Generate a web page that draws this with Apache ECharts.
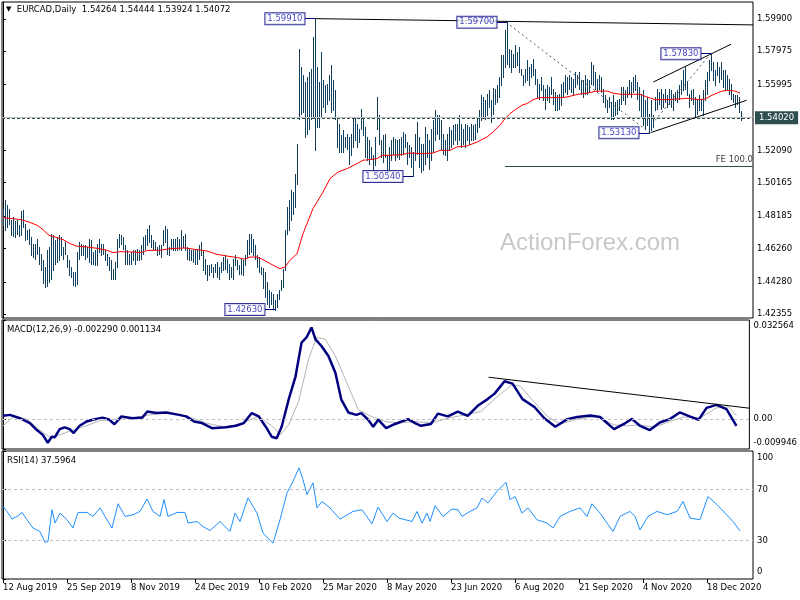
<!DOCTYPE html>
<html><head><meta charset="utf-8">
<script src="https://cdn.jsdelivr.net/npm/echarts@6/dist/echarts.min.js"></script>
<style>html,body{margin:0;padding:0;background:#fff}#c{width:800px;height:600px}</style>
</head><body><div id="c"></div>
<script>
// ---------- DATA ----------
const symbolName = 'EURCAD,Daily';
const lastOHLC = ['1.54264', '1.54444', '1.53924', '1.54072'];
const macdTitle = 'MACD(12,26,9) -0.002290 0.001134';
const rsiTitle = 'RSI(14) 37.5964';
const watermark = 'ActionForex.com';

const barHigh = [
1.4862,1.4912,1.4882,1.4862,1.4793,1.4813,1.4787,1.4793,1.4763,1.4849,
1.4853,1.4773,1.4734,1.4744,1.4694,1.4655,1.4655,1.4684,1.4635,1.4595,
1.4556,1.4516,1.4615,1.4635,1.4710,1.4704,1.4674,1.4694,1.4704,1.4694,
1.4635,1.4665,1.4585,1.4556,1.4516,1.4486,1.4486,1.4605,1.4665,1.4655,
1.4645,1.4645,1.4635,1.4684,1.4674,1.4605,1.4615,1.4655,1.4684,1.4655,
1.4655,1.4615,1.4595,1.4575,1.4556,1.4506,1.4546,1.4684,1.4714,1.4704,
1.4694,1.4645,1.4615,1.4595,1.4605,1.4615,1.4615,1.4625,1.4619,1.4645,
1.4694,1.4704,1.4744,1.4767,1.4704,1.4674,1.4665,1.4635,1.4645,1.4645,
1.4738,1.4758,1.4744,1.4635,1.4684,1.4684,1.4684,1.4694,1.4684,1.4738,
1.4698,1.4714,1.4635,1.4625,1.4615,1.4615,1.4615,1.4625,1.4645,1.4665,
1.4615,1.4566,1.4526,1.4526,1.4536,1.4516,1.4536,1.4546,1.4516,1.4546,
1.4575,1.4585,1.4566,1.4536,1.4516,1.4566,1.4585,1.4556,1.4526,1.4566,
1.4556,1.4585,1.4674,1.4714,1.4710,1.4684,1.4645,1.4585,1.4575,1.4516,
1.4508,1.4486,1.4427,1.4377,1.4368,1.4358,1.4318,1.4358,1.4377,1.4437,
1.4506,1.4734,1.4872,1.4912,1.4971,1.4962,1.5070,1.5249,1.5813,1.5704,
1.5655,1.5615,1.5645,1.5674,1.5694,1.5882,1.5991,1.5704,1.5615,1.5793,
1.5625,1.5595,1.5605,1.5655,1.5714,1.5625,1.5565,1.5407,1.5367,1.5298,
1.5328,1.5288,1.5308,1.5288,1.5308,1.5397,1.5407,1.5367,1.5338,1.5457,
1.5397,1.5348,1.5288,1.5268,1.5229,1.5179,1.5288,1.5526,1.5417,1.5268,
1.5298,1.5308,1.5179,1.5229,1.5268,1.5288,1.5278,1.5268,1.5278,1.5288,
1.5318,1.5308,1.5259,1.5239,1.5229,1.5199,1.5308,1.5377,1.5288,1.5249,
1.5249,1.5348,1.5308,1.5268,1.5338,1.5387,1.5447,1.5417,1.5417,1.5387,
1.5308,1.5268,1.5308,1.5348,1.5328,1.5358,1.5367,1.5367,1.5417,1.5367,
1.5338,1.5367,1.5358,1.5348,1.5367,1.5358,1.5367,1.5407,1.5447,1.5536,
1.5526,1.5506,1.5546,1.5565,1.5506,1.5581,1.5575,1.5595,1.5645,1.5773,
1.5773,1.5922,1.5970,1.5813,1.5803,1.5783,1.5833,1.5793,1.5823,1.5694,
1.5655,1.5694,1.5744,1.5704,1.5724,1.5753,1.5694,1.5635,1.5605,1.5645,
1.5595,1.5575,1.5595,1.5585,1.5645,1.5575,1.5555,1.5536,1.5546,1.5605,
1.5615,1.5655,1.5645,1.5655,1.5645,1.5635,1.5674,1.5655,1.5674,1.5625,
1.5625,1.5655,1.5635,1.5625,1.5734,1.5714,1.5674,1.5635,1.5655,1.5645,
1.5575,1.5536,1.5506,1.5526,1.5496,1.5536,1.5496,1.5506,1.5516,1.5585,
1.5585,1.5565,1.5585,1.5625,1.5615,1.5645,1.5655,1.5615,1.5585,1.5546,
1.5565,1.5506,1.5526,1.5427,1.5506,1.5417,1.5526,1.5575,1.5555,1.5575,
1.5546,1.5575,1.5536,1.5575,1.5565,1.5546,1.5555,1.5565,1.5595,1.5625,
1.5684,1.5704,1.5615,1.5546,1.5565,1.5575,1.5526,1.5516,1.5536,1.5516,
1.5565,1.5625,1.5674,1.5744,1.5783,1.5734,1.5684,1.5734,1.5704,1.5734,
1.5684,1.5684,1.5655,1.5635,1.5605,1.5546,1.5536,1.5536,1.5526,1.5444];

const barLow = [
1.4763,1.4734,1.4754,1.4773,1.4704,1.4698,1.4694,1.4710,1.4698,1.4704,
1.4754,1.4674,1.4684,1.4655,1.4585,1.4575,1.4565,1.4595,1.4536,1.4496,
1.4421,1.4397,1.4401,1.4427,1.4447,1.4496,1.4536,1.4546,1.4556,1.4585,
1.4565,1.4595,1.4516,1.4467,1.4457,1.4407,1.4401,1.4417,1.4565,1.4585,
1.4585,1.4565,1.4575,1.4546,1.4536,1.4536,1.4526,1.4526,1.4605,1.4585,
1.4595,1.4556,1.4526,1.4496,1.4447,1.4447,1.4447,1.4516,1.4635,1.4655,
1.4625,1.4536,1.4536,1.4536,1.4536,1.4556,1.4536,1.4556,1.4560,1.4565,
1.4595,1.4625,1.4645,1.4665,1.4635,1.4625,1.4615,1.4585,1.4595,1.4575,
1.4645,1.4665,1.4595,1.4585,1.4625,1.4615,1.4619,1.4615,1.4625,1.4615,
1.4635,1.4615,1.4565,1.4556,1.4556,1.4546,1.4536,1.4536,1.4565,1.4585,
1.4496,1.4476,1.4437,1.4467,1.4486,1.4457,1.4486,1.4457,1.4447,1.4486,
1.4496,1.4506,1.4486,1.4447,1.4457,1.4447,1.4526,1.4506,1.4476,1.4476,
1.4467,1.4526,1.4575,1.4595,1.4605,1.4585,1.4565,1.4516,1.4486,1.4476,
1.4389,1.4338,1.4298,1.4278,1.4298,1.4269,1.4263,1.4278,1.4328,1.4377,
1.4397,1.4496,1.4714,1.4734,1.4793,1.4833,1.4872,1.5011,1.5397,1.5427,
1.5437,1.5288,1.5308,1.5338,1.5397,1.5407,1.5209,1.5348,1.5348,1.5407,
1.5466,1.5437,1.5486,1.5506,1.5437,1.5447,1.5397,1.5229,1.5199,1.5199,
1.5199,1.5229,1.5219,1.5130,1.5179,1.5229,1.5268,1.5229,1.5259,1.5338,
1.5298,1.5169,1.5150,1.5130,1.5160,1.5090,1.5120,1.5338,1.5249,1.5169,
1.5140,1.5169,1.5070,1.5100,1.5150,1.5189,1.5150,1.5169,1.5160,1.5179,
1.5189,1.5229,1.5130,1.5169,1.5110,1.5054,1.5150,1.5189,1.5110,1.5080,
1.5090,1.5130,1.5169,1.5100,1.5150,1.5199,1.5268,1.5308,1.5278,1.5209,
1.5189,1.5179,1.5150,1.5209,1.5229,1.5249,1.5268,1.5249,1.5268,1.5229,
1.5249,1.5229,1.5268,1.5249,1.5268,1.5268,1.5278,1.5318,1.5348,1.5387,
1.5407,1.5397,1.5417,1.5466,1.5377,1.5427,1.5486,1.5496,1.5526,1.5595,
1.5645,1.5704,1.5724,1.5704,1.5674,1.5704,1.5704,1.5714,1.5674,1.5655,
1.5595,1.5615,1.5625,1.5595,1.5645,1.5655,1.5605,1.5526,1.5516,1.5565,
1.5506,1.5457,1.5506,1.5496,1.5546,1.5486,1.5447,1.5447,1.5457,1.5476,
1.5526,1.5555,1.5546,1.5575,1.5555,1.5536,1.5585,1.5605,1.5575,1.5546,
1.5526,1.5546,1.5546,1.5555,1.5605,1.5595,1.5575,1.5555,1.5575,1.5555,
1.5496,1.5466,1.5437,1.5466,1.5397,1.5397,1.5417,1.5427,1.5447,1.5486,
1.5506,1.5486,1.5526,1.5546,1.5526,1.5555,1.5565,1.5516,1.5447,1.5407,
1.5358,1.5338,1.5358,1.5313,1.5328,1.5348,1.5447,1.5457,1.5486,1.5457,
1.5466,1.5496,1.5466,1.5486,1.5466,1.5447,1.5506,1.5496,1.5516,1.5546,
1.5565,1.5575,1.5536,1.5466,1.5506,1.5486,1.5407,1.5427,1.5447,1.5447,
1.5417,1.5506,1.5546,1.5625,1.5684,1.5625,1.5595,1.5655,1.5615,1.5635,
1.5585,1.5565,1.5575,1.5546,1.5516,1.5496,1.5466,1.5486,1.5437,1.5392];

// moving average [bar index, value]
const maPoints = [[0,1.4809],[5,1.4803],[9,1.4797],[13,1.4783],[17,1.4764],[20,1.4738],[23,1.4704],[26,1.4694],[30,1.4679],[33.5,1.4655],[37,1.4639],[42,1.4635],[47,1.4627],[52,1.4615],[55,1.4601],[58.5,1.4607],[65,1.4605],[68.5,1.4601],[72.5,1.4615],[78.5,1.4615],[83.5,1.4625],[91,1.4629],[97,1.4619],[102,1.4611],[107,1.4591],[112,1.4581],[117,1.4572],[121,1.4562],[123.5,1.4575],[127,1.4575],[130,1.4560],[133.5,1.4536],[138.5,1.4506],[141,1.4516],[143.5,1.4556],[147,1.4595],[150,1.4714],[155,1.4863],[160,1.4961],[163.5,1.5041],[167.5,1.5080],[172,1.5100],[177,1.5130],[180,1.5150],[183.5,1.5154],[187,1.5160],[189.5,1.5179],[193.5,1.5179],[200,1.5185],[203.5,1.5193],[210,1.5189],[215,1.5193],[218.5,1.5209],[223.5,1.5209],[227,1.5229],[232,1.5235],[237,1.5258],[242,1.5288],[245,1.5318],[248.5,1.5358],[251,1.5397],[253.5,1.5427],[257,1.5457],[260,1.5480],[262,1.5486],[265,1.5510],[268.5,1.5522],[275,1.5522],[280,1.5522],[283.5,1.5530],[287.5,1.5542],[292,1.5549],[297,1.5561],[302,1.5561],[305,1.5549],[308.5,1.5542],[313.5,1.5542],[318.5,1.5542],[321,1.5530],[326,1.5510],[332.5,1.5510],[337.5,1.5514],[342.5,1.5518],[347.5,1.5510],[351,1.5514],[354.5,1.5536],[359.5,1.5561],[362.5,1.5565],[366,1.5561],[368.5,1.5549]];

const macdIdx = [0,3.5,8.5,13.5,17,20,22.5,24.5,26,28.5,31,33.5,35.5,38.5,42,45,50,53.5,56,59.5,65,70,72.5,77,82,88.5,92,96,100,105,112,117,121,125,128.5,132,135,137.5,140,143.5,147,150,152.5,155,157,160,163.5,167,170,173.5,177.5,180,183.5,186,188.5,192.5,197,203.5,207,210,215,218.5,223.5,228.5,233.5,238.5,243.5,247,252,256,261,267,272,277.5,283.5,288.5,295,300,307,312,316,320,325,330,335,340,345,349.5,353.5,358.5,363.5,368.5];
const macdVal = [0.0010,0.0013,0.0002,-0.0014,-0.0037,-0.0053,-0.0079,-0.0059,-0.0061,-0.0034,-0.0028,-0.0034,-0.0047,-0.0023,-0.0009,-0.0003,0.0004,-0.0003,-0.0018,0.0008,0.0002,0.0004,0.0024,0.0019,0.0021,0.0013,0.0008,-0.0009,-0.0014,-0.0031,-0.0028,-0.0023,-0.0014,0.0019,0.0008,-0.0026,-0.0059,-0.0064,-0.0026,0.0063,0.0140,0.0251,0.0268,0.0301,0.0262,0.0240,0.0207,0.0152,0.0063,0.0021,0.0013,0.0019,-0.0003,-0.0026,-0.0003,-0.0031,-0.0017,-0.0001,-0.0014,-0.0023,-0.0017,0.0017,0.0008,0.0024,0.0010,0.0043,0.0065,0.0083,0.0124,0.0116,0.0065,0.0039,0.0002,-0.0026,-0.0001,0.0006,0.0011,0.0006,-0.0034,-0.0017,0.0000,-0.0023,-0.0037,-0.0012,-0.0001,0.0021,0.0008,-0.0003,0.0036,0.0046,0.0032,-0.0023];

const sigIdx = [0,5,12,18.5,23.5,28.5,35,42,48.5,57,65,73.5,82,92,102,112,120,128.5,135,139.5,143.5,148.5,153.5,157.5,162,167,173.5,178.5,185,192,198.5,207,215,223.5,232,240,248.5,256,260,265,273.5,280,288.5,298.5,307,313.5,320,327,335,342,350,358.5,364.5,368.5];
const sigVal = [-0.0023,0.0006,-0.0001,-0.0037,-0.0061,-0.0053,-0.0037,-0.0023,-0.0006,-0.0001,0.0002,0.0013,0.0019,0.0010,-0.0014,-0.0028,-0.0014,0.0008,-0.0023,-0.0053,-0.0020,0.0057,0.0196,0.0268,0.0262,0.0207,0.0107,0.0030,0.0008,-0.0009,-0.0014,-0.0009,-0.0014,0.0002,0.0013,0.0024,0.0074,0.0113,0.0107,0.0069,0.0008,-0.0017,-0.0001,0.0008,-0.0020,-0.0023,-0.0020,-0.0028,-0.0009,0.0006,0.0002,0.0036,0.0039,0.0011];

const rsiPoints = [[0,56.7],[2,52.8],[4.5,46.8],[7,48.9],[9.5,52],[12,46.3],[15,39.8],[18.5,37.1],[21,28.5],[22.5,29.3],[24.5,54.1],[26,43.7],[28.5,51.5],[32,46.3],[35,39.8],[37.5,52],[42,52],[45,48.9],[48.5,55.5],[51,48.9],[54.5,39.8],[57.5,58.8],[61,48.9],[65,50.2],[68.5,52.8],[72,62.5],[75,52.8],[78.5,48.9],[80.5,62],[82.5,48.9],[87,52],[91,52],[92.5,43.7],[97,44.9],[100,41],[103.5,37.9],[108.5,44.9],[113.5,37.1],[116,51.5],[118.5,44.9],[122.5,63.3],[127,51.5],[130,35.8],[135,28],[138.5,46.3],[142,67.2],[145,76.3],[148,86.8],[150,77.6],[152,65.9],[155,75.1],[157,55.5],[159.5,60.6],[163.5,55.5],[168.5,46.8],[175,52.8],[179.5,54.1],[184.5,43.1],[187.5,56.2],[192,44.9],[195,51.5],[198,47.6],[204.5,44.9],[207,52.8],[209.5,43.7],[212,51.5],[213.5,44.9],[216,57.3],[220,48.9],[224.5,54.7],[227.5,54.1],[229.5,48.9],[233.5,52.8],[237,55.5],[239.5,63.3],[242.5,59.4],[247,68.5],[251.5,75.5],[253.5,62],[256,64.5],[259.5,51.5],[262.5,55.5],[267,46.3],[272,43.7],[275,39.8],[278.5,48.9],[283.5,52.8],[288.5,55.5],[292,48.9],[294.5,58.8],[298.5,51.5],[302,43.7],[305,37.1],[308.5,48.9],[313.5,52.8],[316,48.9],[318.5,38.4],[322.5,48.9],[327,52.8],[332,50.2],[337,52.8],[340,60.6],[343.5,47.6],[348.5,46.3],[352.5,64.5],[357,58],[361,51.5],[365,44.9],[368.5,37.6]];

// axes / ticks
const priceTickLabels = ['1.59900','1.57975','1.55995','1.52090','1.50165','1.48185','1.46260','1.44280','1.42355'];
const currentPrice = 1.54020;
const currentPriceLabel = '1.54020';
const askPrice = 1.54080;
const macdTicks = [0.032564, 0, -0.009946];
const macdTickLabels = ['0.032564', '0.00', '-0.009946'];
const rsiTicks = [100, 70, 30, 0];
const rsiLevels = [70, 30];
const xTickIdx = [0,32,64,96,128,160,192,224,256,288,320,352];
const xTickLabels = ['12 Aug 2019','25 Sep 2019','8 Nov 2019','24 Dec 2019','10 Feb 2020','25 Mar 2020','8 May 2020','23 Jun 2020','6 Aug 2020','21 Sep 2020','4 Nov 2020','18 Dec 2020'];

// annotations (bar index, price)
const pivotLabels = ['1.59910','1.42630','1.50540','1.59700','1.53130','1.57830'];
const pivotIdx = [156, 136, 205, 252, 323, 354];
const pivotPrice = [1.5991, 1.4263, 1.5054, 1.5970, 1.5313, 1.5783];
const solidTrends = [
  [[156, 1.5991], [375, 1.5954]],
  [[325.2, 1.5615], [364, 1.5839]],
  [[323.8, 1.5314], [371.8, 1.5506]]
];
const dashedTrends = [
  [[253.5, 1.5952], [323, 1.5316]],
  [[326, 1.5387], [354, 1.5785]]
];
const feLine = [[251, 1.5116], [375, 1.5116]];
const feLabel = 'FE 100.0';
const macdTrend = [[244, 0.0137], [375, 0.0035]];

// ---------- CHART ----------
const FONT = 'DejaVu Sans';
const FS = 8.5;
const BAR_COLOR = '#113f5c';
const pivotGap = 5;
const priceTicks = priceTickLabels.map(Number);

const barData = barHigh.map((h, i) => [i, h, barLow[i]]);
const zip = (a, b) => a.map((x, i) => [x, b[i]]);

const txt = { fontFamily: FONT, fontSize: FS, color: '#000' };

function xAxisBase(gi) {
  return { gridIndex: gi, type: 'value', min: -0.5, max: 375,
    axisLine: { show: false }, axisTick: { show: false }, axisLabel: { show: false }, splitLine: { show: false } };
}
function yAxisBase(gi, min, max) {
  return { gridIndex: gi, type: 'value', position: 'right', min, max,
    axisLine: { show: true, lineStyle: { color: '#000', width: 1 } },
    splitLine: { show: false } };
}

const mainMarks = [];
mainMarks.push({ yAxis: askPrice, lineStyle: { color: '#c0c0c0', type: 'solid', width: 1 }, label: { show: false } });
mainMarks.push({ yAxis: currentPrice, lineStyle: { color: '#2f4f4f', type: [3, 2], width: 1 },
  label: { show: true, position: 'end', distance: 2, formatter: currentPriceLabel, color: '#fff', backgroundColor: '#2f4f4f',
    fontFamily: FONT, fontSize: FS, lineHeight: 10, padding: [2, 4, 1, 4] } });
solidTrends.forEach(t => mainMarks.push([
  { coord: t[0], lineStyle: { color: '#000', type: 'solid', width: 1 }, label: { show: false } },
  { coord: t[1], lineStyle: { color: '#000', type: 'solid', width: 1 } }]));
dashedTrends.forEach(t => mainMarks.push([
  { coord: t[0], lineStyle: { color: '#505050', type: [2, 3], width: 1 }, label: { show: false } },
  { coord: t[1], lineStyle: { color: '#505050', type: [2, 3], width: 1 } }]));
mainMarks.push([
  { coord: feLine[0], lineStyle: { color: '#2f4f4f', type: 'solid', width: 1 },
    label: { show: true, position: 'insideEndTop', formatter: feLabel, distance: [0, 2], color: '#404040', fontFamily: FONT, fontSize: FS } },
  { coord: feLine[1], lineStyle: { color: '#2f4f4f', type: 'solid', width: 1 } }]);
pivotIdx.forEach((ix, k) => mainMarks.push([
  { coord: [ix - pivotGap, pivotPrice[k]], lineStyle: { color: '#000080', type: 'solid', width: 1 }, label: { show: false } },
  { coord: [ix, pivotPrice[k]], lineStyle: { color: '#000080', type: 'solid', width: 1 } }]));

const option = {
  animation: false,
  backgroundColor: '#fff',
  textStyle: { fontFamily: FONT },
  title: [
    { text: '{t|▼}  ' + symbolName + '  ' + lastOHLC.join(' '), left: 6, top: 5, padding: 0,
      textStyle: Object.assign({ fontWeight: 'normal', rich: { t: { fontSize: 7, color: '#000', fontFamily: FONT } } }, txt) },
    { text: macdTitle, left: 7, top: 325, padding: 0, textStyle: Object.assign({ fontWeight: 'normal' }, txt) },
    { text: rsiTitle, left: 7, top: 456, padding: 0, textStyle: Object.assign({ fontWeight: 'normal' }, txt) }
  ],
  graphic: [{ type: 'text', left: 500, top: 231, silent: true, z: 0,
    style: { text: watermark, font: '24px "Liberation Sans"', fill: '#c8c8c8' } }],
  grid: [
    { left: 2, right: 47, top: 2, height: 316, show: true, borderColor: '#000', borderWidth: 1, backgroundColor: 'transparent' },
    { left: 2, right: 47, top: 320, height: 129, show: true, borderColor: '#000', borderWidth: 1, backgroundColor: 'transparent' },
    { left: 2, right: 47, top: 451, height: 128, show: true, borderColor: '#000', borderWidth: 1, backgroundColor: 'transparent' }
  ],
  xAxis: [
    xAxisBase(0), xAxisBase(1),
    Object.assign(xAxisBase(2), {
      axisTick: { show: true, customValues: xTickIdx, length: 4, lineStyle: { color: '#000' } },
      axisLabel: Object.assign({ show: true, customValues: xTickIdx, align: 'left', margin: 4, hideOverlap: false,
        formatter: v => { const k = xTickIdx.indexOf(v); return k >= 0 ? xTickLabels[k] : ''; } }, txt)
    })
  ],
  yAxis: [
    Object.assign(yAxisBase(0, 1.4213, 1.6090), {
      axisTick: { show: true, customValues: priceTicks, length: 3, lineStyle: { color: '#000' } },
      axisLabel: Object.assign({ show: true, customValues: priceTicks, margin: 4,
        formatter: v => { const k = priceTicks.indexOf(v); return k >= 0 ? priceTickLabels[k] : v.toFixed(5); } }, txt)
    }),
    Object.assign(yAxisBase(1, -0.009946, 0.032564), {
      axisTick: { show: true, customValues: macdTicks, length: 3, lineStyle: { color: '#000' } },
      axisLabel: Object.assign({ show: true, customValues: macdTicks, margin: 4,
        formatter: v => { const k = macdTicks.indexOf(v); const s = macdTickLabels[k];
          return k === 0 ? '{a|' + s + '}' : (k === 2 ? '{b|' + s + '}' : s); },
        rich: { a: Object.assign({ padding: [12, 0, 0, 0] }, txt), b: Object.assign({ padding: [0, 0, 12, 0] }, txt) } }, txt)
    }),
    Object.assign(yAxisBase(2, 0, 100), {
      axisTick: { show: true, customValues: rsiTicks, length: 3, lineStyle: { color: '#000' } },
      axisLabel: Object.assign({ show: true, customValues: rsiTicks, margin: 4,
        formatter: v => v === 100 ? '{a|100}' : (v === 0 ? '{b|0}' : String(v)),
        rich: { a: Object.assign({ padding: [14, 0, 0, 0] }, txt), b: Object.assign({ padding: [0, 0, 14, 0] }, txt) } }, txt)
    })
  ],
  series: [
    { type: 'custom', name: 'bars', xAxisIndex: 0, yAxisIndex: 0, data: barData, clip: true, silent: true, z: 2,
      encode: { x: 0, y: [1, 2] },
      renderItem: (params, api) => {
        const p1 = api.coord([api.value(0), api.value(1)]);
        const p2 = api.coord([api.value(0), api.value(2)]);
        const x = Math.round(p1[0]) + 0.5;
        return { type: 'line', shape: { x1: x, y1: Math.round(p1[1]), x2: x, y2: Math.round(p2[1]) + 1 },
          style: { stroke: BAR_COLOR, lineWidth: 1 } };
      } },
    { type: 'line', name: 'MA', xAxisIndex: 0, yAxisIndex: 0, data: maPoints, showSymbol: false, symbol: 'none', silent: true, z: 3,
      lineStyle: { color: '#ff0000', width: 1 },
      markLine: { symbol: ['none', 'none'], silent: true, animation: false, precision: 5, data: mainMarks } },
    { type: 'scatter', name: 'pivots', xAxisIndex: 0, yAxisIndex: 0, symbolSize: 1, silent: true, z: 6,
      itemStyle: { color: 'rgba(0,0,0,0)' },
      data: pivotIdx.map((ix, k) => ({ value: [ix - pivotGap, pivotPrice[k]], label: { formatter: pivotLabels[k] } })),
      label: { show: true, position: 'left', distance: 0, color: '#1010b0', fontFamily: FONT, fontSize: FS, lineHeight: 10,
        backgroundColor: '#fff', borderColor: '#000080', borderWidth: 1, padding: [1, 2, 0, 2] } },
    { type: 'line', name: 'Signal', xAxisIndex: 1, yAxisIndex: 1, data: zip(sigIdx, sigVal), symbol: 'none', silent: true, z: 3,
      lineStyle: { color: '#b4b4b4', width: 1 },
      markLine: { symbol: ['none', 'none'], silent: true, animation: false,
        data: [
          { yAxis: 0, lineStyle: { color: '#c0c0c0', type: [3, 3], width: 1 }, label: { show: false } },
          [{ coord: macdTrend[0], lineStyle: { color: '#000', type: 'solid', width: 1 }, label: { show: false } },
           { coord: macdTrend[1], lineStyle: { color: '#000', type: 'solid', width: 1 } }]
        ] } },
    { type: 'line', name: 'MACD', xAxisIndex: 1, yAxisIndex: 1, data: zip(macdIdx, macdVal), symbol: 'none', silent: true, z: 4,
      lineStyle: { color: '#000080', width: 2.5 } },
    { type: 'line', name: 'RSI', xAxisIndex: 2, yAxisIndex: 2, data: rsiPoints, symbol: 'none', silent: true, z: 3,
      lineStyle: { color: '#1e90ff', width: 1 },
      markLine: { symbol: ['none', 'none'], silent: true, animation: false,
        data: rsiLevels.map(v => ({ yAxis: v, lineStyle: { color: '#c0c0c0', type: [3, 3], width: 1 }, label: { show: false } })) } }
  ]
};

const chart = echarts.init(document.getElementById('c'), null, { renderer: 'canvas' });
chart.setOption(option);
</script>
</body></html>
